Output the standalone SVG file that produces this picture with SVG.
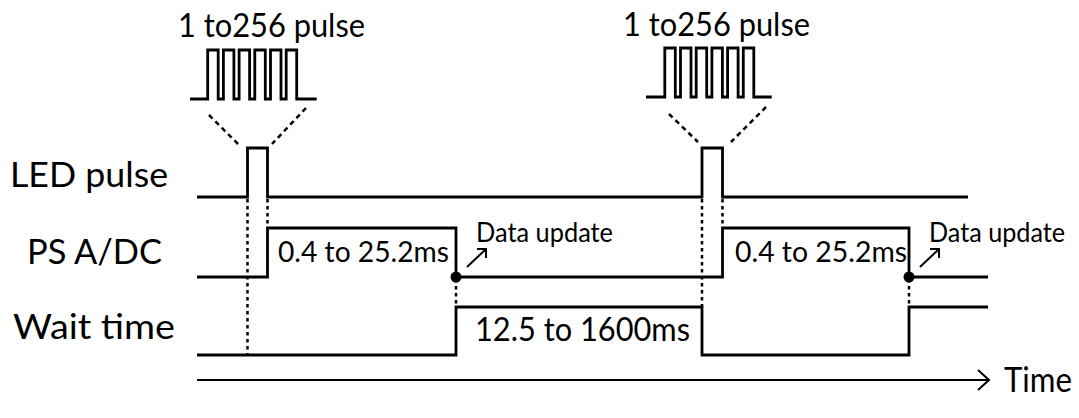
<svg xmlns="http://www.w3.org/2000/svg" width="1079" height="418" viewBox="0 0 1079 418">
<style>
.sig{fill:none;stroke:#000;stroke-width:2.8;stroke-linejoin:miter}
.dot{fill:none;stroke:#000;stroke-width:2.5;stroke-dasharray:3.5 3.5}
.dash{fill:none;stroke:#000;stroke-width:2.5;stroke-dasharray:5 4}
.arr{fill:none;stroke:#000;stroke-width:2}
text{font-family:Lato,"Liberation Sans",sans-serif;fill:#000}
.lbl{font-size:35px}
.top{font-size:33px}
.ann{font-size:29px}
.big{font-size:33px}
.du{font-size:26px}
</style>
<rect width="1079" height="418" fill="#fff"/>
<g id="labels">
<text class="lbl" x="10" y="187" textLength="158" lengthAdjust="spacingAndGlyphs">LED pulse</text>
<text class="lbl" x="27" y="264" textLength="135" lengthAdjust="spacingAndGlyphs">PS A/DC</text>
<text class="lbl" x="13" y="339" textLength="162" lengthAdjust="spacingAndGlyphs">Wait time</text>
</g>
<g id="led-signal">
<path class="sig" d="M197,197 H247.5 V148 H267.5 V197 H702 V148 H722.5 V197 H968"/>
</g>
<g id="adc-signal">
<path class="sig" d="M197,277 H267.5 V228 H456 V277 H722.5 V228 H909 V277 H988"/>
</g>
<g id="wait-signal">
<path class="sig" d="M197,355 H456 V307 H702 V355 H909 V307 H988"/>
</g>
<g id="pulse-train-1">
<text class="top" x="178" y="37" textLength="187" lengthAdjust="spacingAndGlyphs">1 to256 pulse</text>
<path class="sig" d="M190,99 H207.7 V50 H218.2 V99 H223.4 V50 H233.9 V99 H239.1 V50 H249.6 V99 H254.8 V50 H265.3 V99 H270.5 V50 H281 V99 H286.2 V50 H296.7 V99 H316.7"/>
</g>
<g id="pulse-train-2">
<text class="top" x="623" y="36" textLength="187" lengthAdjust="spacingAndGlyphs">1 to256 pulse</text>
<path class="sig" d="M646,97 H664.8 V48 H675.3 V97 H680.5 V48 H691 V97 H696.2 V48 H706.7 V97 H711.9 V48 H722.4 V97 H727.6 V48 H738.1 V97 H743.3 V48 H753.8 V97 H771.7"/>
</g>
<g id="connectors">
<line class="dash" x1="209" y1="115" x2="238" y2="144"/>
<line class="dash" x1="306" y1="108" x2="272" y2="144"/>
<line class="dash" x1="669" y1="114" x2="698" y2="142"/>
<line class="dash" x1="766" y1="107" x2="731" y2="142"/>
<line class="dot" x1="247.5" y1="199" x2="247.5" y2="355"/>
<line class="dot" x1="267.5" y1="199" x2="267.5" y2="228"/>
<line class="dot" x1="456" y1="279" x2="456" y2="307"/>
<line class="dot" x1="702" y1="199" x2="702" y2="307"/>
<line class="dot" x1="722.5" y1="199" x2="722.5" y2="228"/>
<line class="dot" x1="909" y1="279" x2="909" y2="307"/>
<circle cx="456" cy="277" r="5.5" fill="#000"/>
<circle cx="909" cy="277" r="5.5" fill="#000"/>
<path class="arr" d="M467,267 L486,249 M477,249 H486 V258"/>
<path class="arr" d="M920,267 L939,249 M930,249 H939 V258"/>
<path class="arr" d="M197,380 H989 M978,370 L989,380 L978,390"/>
</g>
<g id="annotations">
<text class="ann" x="278" y="262" textLength="171" lengthAdjust="spacingAndGlyphs">0.4 to 25.2ms</text>
<text class="ann" x="735" y="262" textLength="172" lengthAdjust="spacingAndGlyphs">0.4 to 25.2ms</text>
<text class="big" x="475" y="341" textLength="215" lengthAdjust="spacingAndGlyphs">12.5 to 1600ms</text>
<text class="du" x="476" y="242" textLength="137" lengthAdjust="spacingAndGlyphs">Data update</text>
<text class="du" x="929" y="242" textLength="136" lengthAdjust="spacingAndGlyphs">Data update</text>
<text class="lbl" x="1004" y="392" textLength="68" lengthAdjust="spacingAndGlyphs">Time</text>
</g>
</svg>
